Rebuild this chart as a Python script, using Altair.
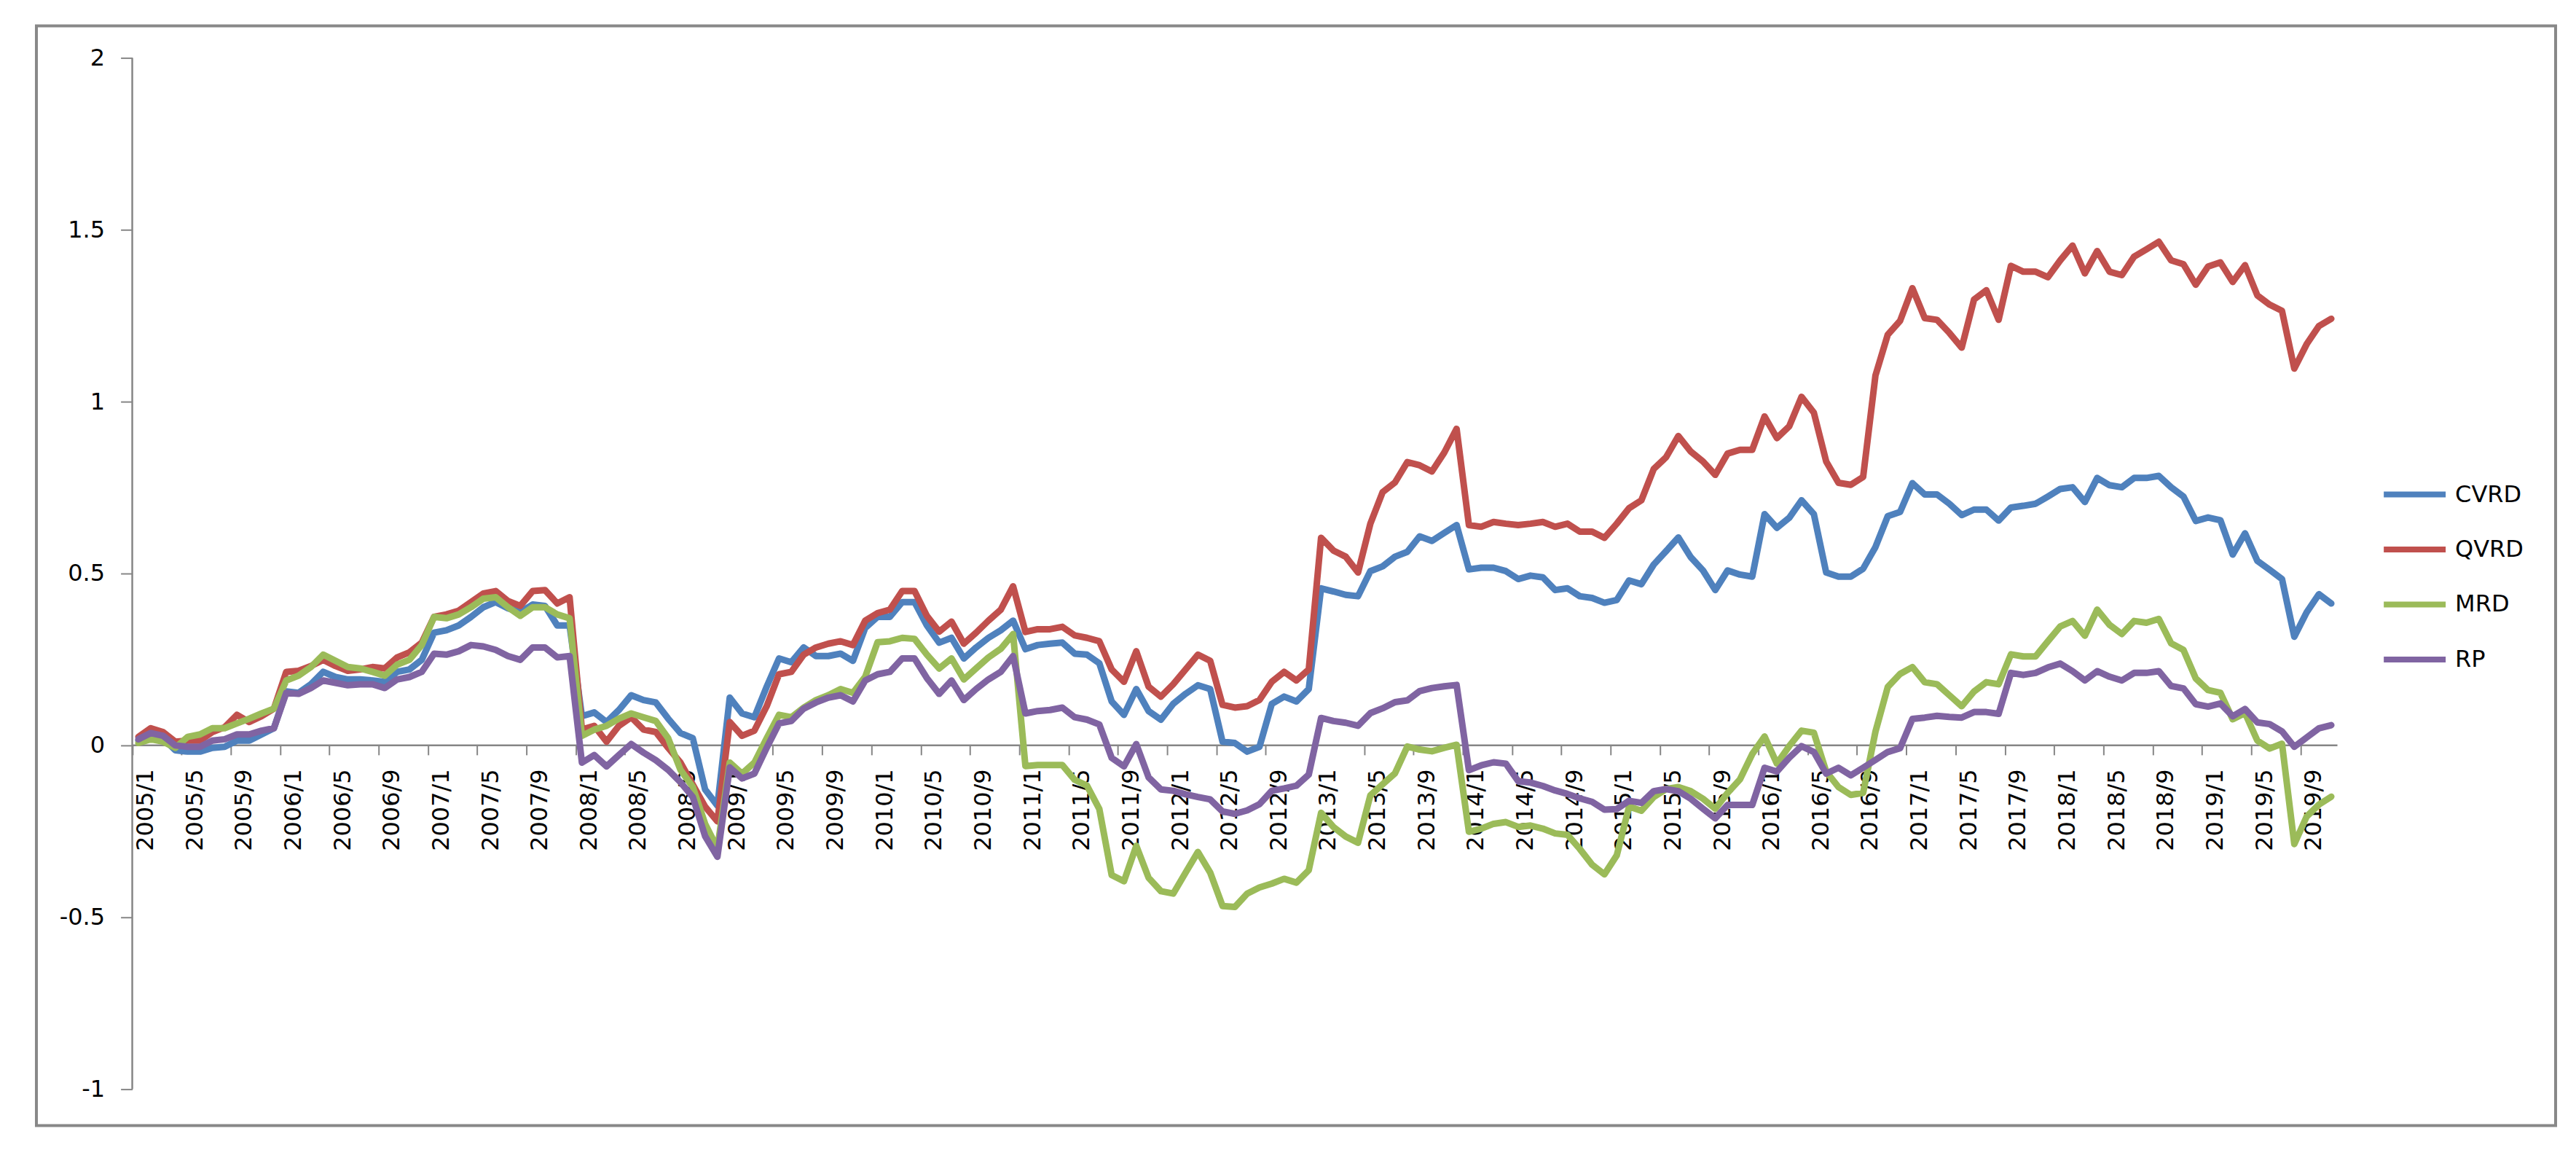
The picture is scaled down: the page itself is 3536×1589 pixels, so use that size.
import altair as alt
import pandas as pd

# ---------------- data ----------------
SERIES = ["CVRD", "QVRD", "MRD", "RP"]
COLORS = ["#4F81BD", "#C0504D", "#9BBB59", "#8064A2"]
START_YEAR = 2005          # first month is 2005/1, monthly, 179 months (to 2019/11)
Y_TICKS = [-1, -0.5, 0, 0.5, 1, 1.5, 2]
X_TICK_STEP = 4            # a label every 4 months

cvrd = [
    0.014, 0.032, 0.021, -0.014, -0.018, -0.018, -0.007, -0.004, 0.014, 0.014, 0.032, 0.05,
    0.157, 0.153, 0.178, 0.214, 0.199, 0.192, 0.192, 0.189, 0.185, 0.214, 0.221, 0.249,
    0.328, 0.335, 0.349, 0.374, 0.402, 0.417, 0.399, 0.388, 0.41, 0.406, 0.349, 0.349,
    0.085, 0.096, 0.068, 0.103, 0.146, 0.132, 0.125, 0.078, 0.036, 0.021, -0.128, -0.175,
    0.139, 0.093, 0.082, 0.171, 0.253, 0.242, 0.285, 0.26, 0.26, 0.267, 0.246, 0.342,
    0.374, 0.374, 0.417, 0.417, 0.349, 0.299, 0.313, 0.253, 0.285, 0.313, 0.335, 0.363,
    0.28, 0.292, 0.296, 0.299, 0.267, 0.264, 0.239, 0.128, 0.089, 0.164, 0.10, 0.075,
    0.121, 0.15, 0.175, 0.164, 0.011, 0.007, -0.018, -0.004, 0.121, 0.142, 0.128, 0.164,
    0.457, 0.448, 0.438, 0.434, 0.507, 0.521, 0.549, 0.563, 0.608, 0.595, 0.618, 0.641,
    0.512, 0.517, 0.517, 0.507, 0.484, 0.494, 0.489, 0.452, 0.457, 0.434, 0.429, 0.415,
    0.423, 0.48, 0.469, 0.526, 0.565, 0.605, 0.548, 0.509, 0.452, 0.509, 0.497, 0.491,
    0.673, 0.633, 0.662, 0.713, 0.673, 0.503, 0.491, 0.491, 0.514, 0.577, 0.667, 0.679,
    0.763, 0.73, 0.73, 0.703, 0.67, 0.686, 0.686, 0.654, 0.692, 0.697, 0.703, 0.724,
    0.746, 0.751, 0.708, 0.778, 0.757, 0.751, 0.778, 0.778, 0.784, 0.751, 0.724, 0.653,
    0.663, 0.655, 0.555, 0.617, 0.537, 0.511, 0.484, 0.316, 0.387, 0.44, 0.413,
]
qvrd = [
    0.025, 0.05, 0.039, 0.011, 0.014, 0.014, 0.039, 0.053, 0.089, 0.068, 0.085, 0.107,
    0.214, 0.217, 0.231, 0.249, 0.231, 0.217, 0.221, 0.228, 0.224, 0.256, 0.271, 0.299,
    0.374, 0.381, 0.392, 0.417, 0.442, 0.449, 0.42, 0.406, 0.449, 0.452, 0.413, 0.431,
    0.046, 0.057, 0.011, 0.057, 0.082, 0.046, 0.039, -0.007, -0.05, -0.114, -0.178, -0.221,
    0.068, 0.028, 0.043, 0.114, 0.207, 0.214, 0.264, 0.285, 0.296, 0.303, 0.292, 0.363,
    0.385, 0.395, 0.449, 0.449, 0.377, 0.331, 0.36, 0.296, 0.328, 0.363, 0.395, 0.463,
    0.33, 0.338, 0.338, 0.345, 0.32, 0.313, 0.303, 0.221, 0.185, 0.274, 0.171, 0.142,
    0.178, 0.221, 0.264, 0.246, 0.118, 0.11, 0.114, 0.132, 0.185, 0.214, 0.189, 0.221,
    0.604, 0.567, 0.549, 0.503, 0.645, 0.737, 0.765, 0.824, 0.815, 0.797, 0.852, 0.921,
    0.641, 0.636, 0.65, 0.645, 0.641, 0.645, 0.65, 0.636, 0.645, 0.622, 0.622, 0.604,
    0.645, 0.69, 0.713, 0.804, 0.838, 0.90, 0.855, 0.826, 0.787, 0.849, 0.86, 0.86,
    0.957, 0.894, 0.928, 1.014, 0.968, 0.826, 0.764, 0.758, 0.781, 1.076, 1.195, 1.235,
    1.33, 1.243, 1.238, 1.2, 1.157, 1.297, 1.324, 1.238, 1.395, 1.378, 1.378, 1.362,
    1.411, 1.454, 1.373, 1.438, 1.378, 1.368, 1.422, 1.443, 1.465, 1.411, 1.40, 1.34,
    1.393, 1.405, 1.348, 1.397, 1.309, 1.282, 1.264, 1.096, 1.167, 1.22, 1.241,
]
mrd = [
    0.007, 0.018, 0.011, -0.007, 0.025, 0.032, 0.05, 0.05, 0.064, 0.078, 0.093, 0.107,
    0.189, 0.203, 0.228, 0.264, 0.246, 0.228, 0.224, 0.214, 0.203, 0.235, 0.249, 0.292,
    0.374, 0.37, 0.381, 0.402, 0.427, 0.431, 0.402, 0.377, 0.402, 0.402, 0.381, 0.37,
    0.028, 0.046, 0.057, 0.078, 0.093, 0.082, 0.071, 0.021, -0.071, -0.121, -0.228, -0.299,
    -0.05, -0.082, -0.05, 0.021, 0.089, 0.082, 0.11, 0.132, 0.146, 0.164, 0.153, 0.20,
    0.30, 0.303, 0.313, 0.31, 0.264, 0.224, 0.253, 0.192, 0.224, 0.256, 0.281, 0.324,
    -0.06, -0.057, -0.057, -0.057, -0.10, -0.117, -0.185, -0.377, -0.395, -0.292, -0.385, -0.424,
    -0.431, -0.37, -0.31, -0.37, -0.467, -0.47, -0.431, -0.413, -0.402, -0.388, -0.399, -0.363,
    -0.196, -0.237, -0.265, -0.283, -0.145, -0.113, -0.081, -0.003, -0.012, -0.017, -0.007, 0.002,
    -0.251, -0.242, -0.228, -0.223, -0.237, -0.233, -0.242, -0.256, -0.26, -0.301, -0.347, -0.375,
    -0.32, -0.178, -0.19, -0.15, -0.127, -0.121, -0.133, -0.155, -0.184, -0.138, -0.099, -0.025,
    0.026, -0.053, -0.002, 0.043, 0.037, -0.076, -0.121, -0.144, -0.138, 0.04, 0.17, 0.208,
    0.228, 0.184, 0.178, 0.146, 0.114, 0.157, 0.184, 0.178, 0.265, 0.259, 0.259, 0.303,
    0.346, 0.362, 0.319, 0.395, 0.351, 0.324, 0.362, 0.357, 0.368, 0.297, 0.278, 0.195,
    0.161, 0.153, 0.076, 0.094, 0.014, -0.009, 0.005, -0.287, -0.207, -0.172, -0.149,
]
rp = [
    0.018, 0.036, 0.028, 0.0, -0.004, -0.004, 0.014, 0.018, 0.032, 0.032, 0.043, 0.05,
    0.153, 0.15, 0.167, 0.189, 0.182, 0.175, 0.178, 0.178, 0.167, 0.192, 0.199, 0.214,
    0.267, 0.264, 0.274, 0.292, 0.288, 0.278, 0.26, 0.249, 0.285, 0.285, 0.256, 0.26,
    -0.05, -0.028, -0.061, -0.028, 0.004, -0.021, -0.043, -0.071, -0.107, -0.15, -0.264, -0.324,
    -0.064, -0.096, -0.082, -0.007, 0.064, 0.071, 0.107, 0.125, 0.139, 0.146, 0.128, 0.189,
    0.207, 0.214, 0.253, 0.253, 0.196, 0.15, 0.189, 0.132, 0.164, 0.192, 0.214, 0.26,
    0.093, 0.10, 0.103, 0.11, 0.082, 0.075, 0.061, -0.036, -0.061, 0.004, -0.093, -0.128,
    -0.132, -0.142, -0.15, -0.157, -0.192, -0.199, -0.189, -0.171, -0.132, -0.125, -0.117, -0.085,
    0.08, 0.071, 0.066, 0.057, 0.094, 0.108, 0.126, 0.131, 0.158, 0.167, 0.172, 0.176,
    -0.072, -0.058, -0.049, -0.053, -0.104, -0.108, -0.118, -0.131, -0.141, -0.154, -0.164, -0.187,
    -0.185, -0.161, -0.167, -0.133, -0.127, -0.133, -0.155, -0.184, -0.212, -0.173, -0.173, -0.173,
    -0.065, -0.076, -0.036, -0.002, -0.019, -0.082, -0.065, -0.087, -0.065, -0.042, -0.019, -0.008,
    0.077, 0.081, 0.086, 0.083, 0.081, 0.097, 0.097, 0.092, 0.211, 0.205, 0.211, 0.227,
    0.238, 0.216, 0.189, 0.216, 0.20, 0.189, 0.211, 0.211, 0.216, 0.173, 0.166, 0.12,
    0.113, 0.122, 0.085, 0.106, 0.067, 0.062, 0.041, -0.004, 0.023, 0.05, 0.059,
]

# ---------------- tables ----------------
N = len(cvrd)
rows = []
for name, vals in zip(SERIES, [cvrd, qvrd, mrd, rp]):
    for i, v in enumerate(vals):
        rows.append({"pos": i + 0.5, "series": name, "value": v})
df = pd.DataFrame(rows)
yaxis_df = pd.DataFrame({"pos": [0], "value": [Y_TICKS[0]], "hi": [Y_TICKS[-1]]})
xaxis_df = pd.DataFrame({"pos": [0], "end": [N], "value": [0]})

# ---------------- geometry / style ----------------
GRAY = "#868686"
FRAME = "#888888"
FONT = "DejaVu Sans"
FS = 32
W, H = 3460, 1510
X_DOMAIN = [-7.78, 196.71]
Y_DOMAIN = [-1.1059, 2.0932]
xs = alt.Scale(domain=X_DOMAIN, nice=False, zero=False)
ys = alt.Scale(domain=Y_DOMAIN, nice=False, zero=False)

x_axis = alt.Axis(
    values=list(range(0, N, X_TICK_STEP)),
    labelExpr=f"({START_YEAR} + floor(datum.value / 12)) + '/' + (datum.value % 12 + 1)",
    offset=-522, domain=False, grid=False, title=None,
    tickSize=13, tickColor=GRAY, tickWidth=2,
    labelAngle=270, labelPadding=19, labelOffset=18,
    labelFont=FONT, labelFontSize=FS, labelColor="#000000",
    labelOverlap=False, labelFlush=False, labelBound=False,
)
y_axis = alt.Axis(
    values=Y_TICKS, labelExpr="toString(datum.value)",
    offset=-131.7, domain=False, grid=False, title=None,
    tickSize=16, tickColor=GRAY, tickWidth=2,
    labelPadding=22, labelFont=FONT, labelFontSize=FS, labelColor="#000000",
    labelOverlap=False, labelFlush=False, labelBound=False,
)

X = alt.X("pos:Q", scale=xs, axis=x_axis)
Y = alt.Y("value:Q", scale=ys, axis=y_axis)

lines = alt.Chart(df).mark_line(strokeWidth=9, strokeJoin="round", strokeCap="round").encode(
    x=X,
    y=Y,
    color=alt.Color(
        "series:N",
        scale=alt.Scale(domain=SERIES, range=COLORS),
        sort=SERIES,
        legend=alt.Legend(
            title=None, orient="none", legendX=3220, legendY=597, padding=0,
            symbolType="stroke", symbolSize=7225, symbolStrokeWidth=8,
            labelFont=FONT, labelFontSize=FS, labelColor="#000000", labelOffset=9,
            rowPadding=12.5, labelLimit=400,
        ),
    ),
)

y_line = alt.Chart(yaxis_df).mark_rule(color=GRAY, strokeWidth=2.5).encode(
    x=X, y=Y, y2="hi:Q",
)
x_line = alt.Chart(xaxis_df).mark_rule(color=GRAY, strokeWidth=2.5).encode(
    x=X, x2="end:Q", y=Y,
)

chart = alt.layer(x_line, y_line, lines).properties(
    width=W, height=H,
    padding={"left": 42, "top": 27, "right": 20, "bottom": 20},
    autosize=alt.AutoSizeParams(type="none"),
    background="#ffffff",
).configure_view(stroke=FRAME, strokeWidth=4)

chart.save("out.html", embed_options={"renderer": "svg", "actions": False})
